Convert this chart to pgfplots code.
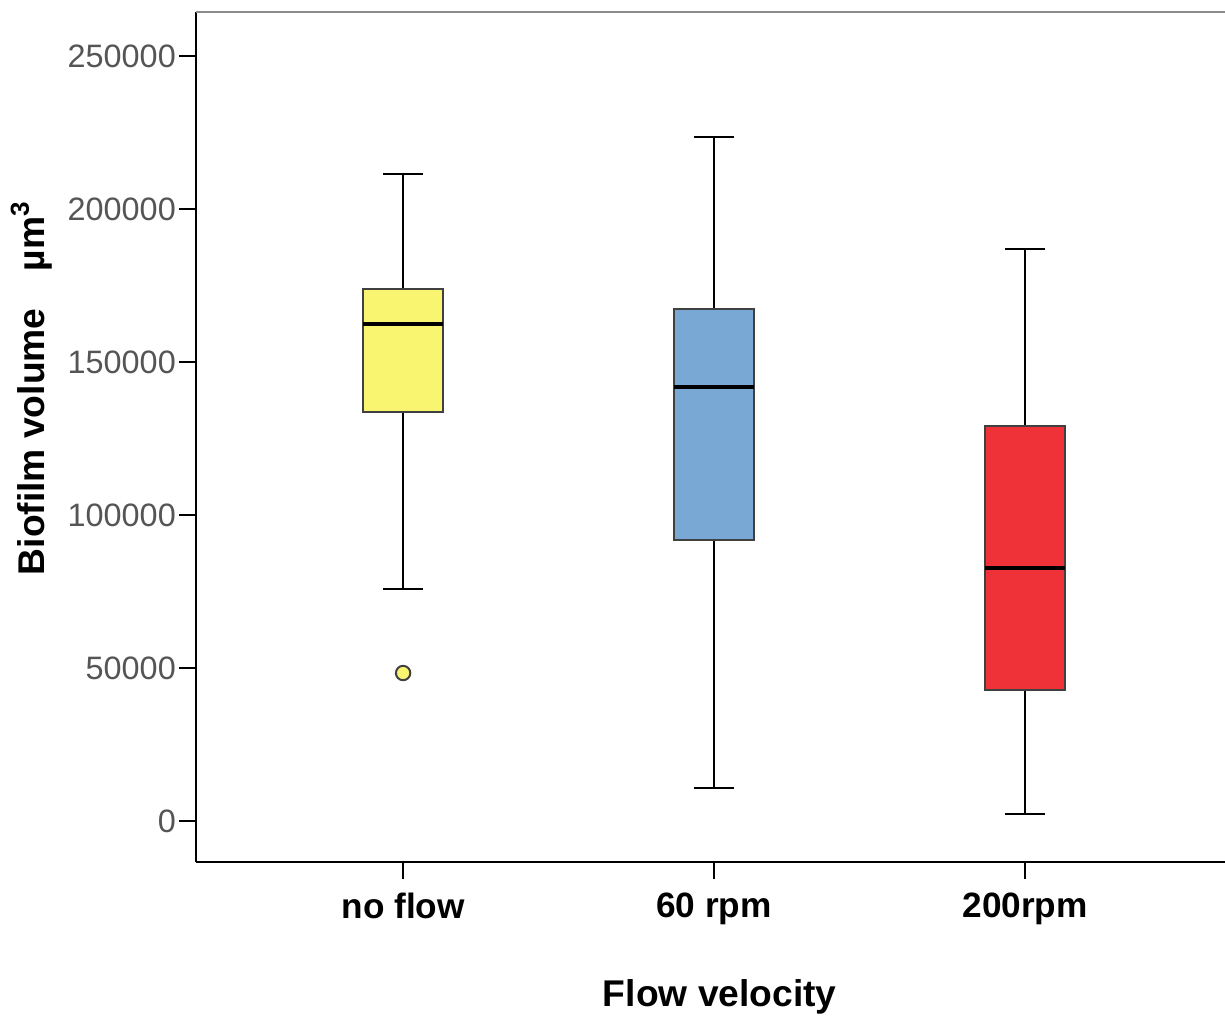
\documentclass[border=0pt]{standalone}
\usepackage{fontspec}
\setmainfont{Liberation Sans}
\usepackage{pgfplots}
\pgfplotsset{compat=1.18}
\definecolor{cyel}{RGB}{250,245,112}
\definecolor{cblue}{RGB}{122,168,212}
\definecolor{cred}{RGB}{238,50,56}
\definecolor{tickgray}{RGB}{85,85,85}
\pgfplotsset{
 whisk/.style={black, line width=0.65pt, no marks},
 boxs/.style={draw=black!75, line width=0.5pt, no marks, fill=#1},
 med/.style={black, line width=1.15pt, no marks},
}
\begin{document}
\begin{tikzpicture}
% values in units of 1000 um^3
\begin{axis}[name=ax, scale only axis, width=257.25pt, height=212.5pt,
 xmin=0.334, xmax=3.643, ymin=-13.4, ymax=264.4,
 clip=false,
 axis x line*=bottom, axis y line*=left,
 axis line style={black, line width=0.5pt},
 xtick={1,2,3}, xticklabels={no flow,60 rpm,200rpm},
 ytick={0,50,100,150,200,250},
 yticklabels={0,50000,100000,150000,200000,250000},
 tick style={black, line width=0.5pt},
 major tick length=4.25pt, tick align=outside,
 y tick label style={font=\fontsize{8.1}{9}\selectfont, color=tickgray, inner sep=0.6pt},
 x tick label style={font=\fontsize{8.8}{10}\selectfont\bfseries, color=black},
 xlabel={Flow velocity},
 xlabel style={at={(axis description cs:0.509,-0.159)}, anchor=center, font=\fontsize{9.3}{11}\selectfont\bfseries},
 ylabel={Biofilm volume\hspace{1.0em}µm\textsuperscript{3}},
 ylabel style={at={(axis description cs:-0.16,0.558)}, anchor=center, font=\fontsize{9.3}{11}\selectfont\bfseries},
]
% no flow: lower whisker 75.817, Q1 133.66, median 162.418, Q3 173.856, upper whisker 211.438
\addplot[whisk] coordinates {(1,173.856) (1,211.438)};
\addplot[whisk] coordinates {(0.9355,211.438) (1.0645,211.438)};
\addplot[whisk] coordinates {(1,133.66) (1,75.817)};
\addplot[whisk] coordinates {(0.9355,75.817) (1.0645,75.817)};
\addplot[boxs=cyel] coordinates {(0.8715,133.66) (1.1285,133.66) (1.1285,173.856) (0.8715,173.856)} -- cycle;
\addplot[med] coordinates {(0.8715,162.418) (1.1285,162.418)};
% 60 rpm: 10.784, 91.83, 141.83, 167.32, 223.529
\addplot[whisk] coordinates {(2,167.32) (2,223.529)};
\addplot[whisk] coordinates {(1.9355,223.529) (2.0645,223.529)};
\addplot[whisk] coordinates {(2,91.83) (2,10.784)};
\addplot[whisk] coordinates {(1.9355,10.784) (2.0645,10.784)};
\addplot[boxs=cblue] coordinates {(1.8715,91.83) (2.1285,91.83) (2.1285,167.32) (1.8715,167.32)} -- cycle;
\addplot[med] coordinates {(1.8715,141.83) (2.1285,141.83)};
% 200rpm: 2.288, 42.81, 82.68, 129.085, 186.928
\addplot[whisk] coordinates {(3,129.085) (3,186.928)};
\addplot[whisk] coordinates {(2.9355,186.928) (3.0645,186.928)};
\addplot[whisk] coordinates {(3,42.81) (3,2.288)};
\addplot[whisk] coordinates {(2.9355,2.288) (3.0645,2.288)};
\addplot[boxs=cred] coordinates {(2.8715,42.81) (3.1285,42.81) (3.1285,129.085) (2.8715,129.085)} -- cycle;
\addplot[med] coordinates {(2.8715,82.68) (3.1285,82.68)};
% outlier
\addplot[only marks, mark=*, mark size=1.8pt, mark options={fill=cyel, draw=black!75, line width=0.5pt}]
   coordinates {(1,48.366)};
\draw[black!45, line width=0.6pt] (axis description cs:0,1) -- (axis description cs:1,1);
\end{axis}
\pgfresetboundingbox
\path[use as bounding box] ([xshift=-49pt, yshift=-39.25pt]ax.south west) rectangle ([yshift=3pt]ax.north east);
\end{tikzpicture}
\end{document}
